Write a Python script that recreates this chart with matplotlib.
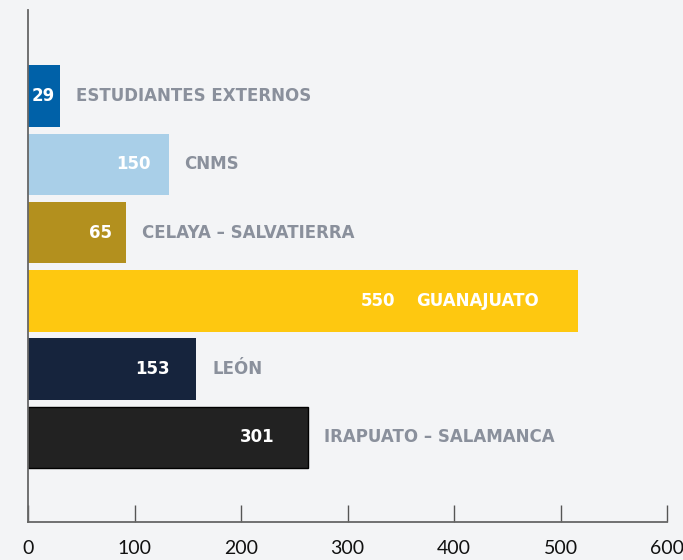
import matplotlib
matplotlib.use("Agg")
import matplotlib.pyplot as plt
from matplotlib import transforms

# Data
categories = ["ESTUDIANTES EXTERNOS", "CNMS", "CELAYA – SALVATIERRA",
              "GUANAJUATO", "LEÓN", "IRAPUATO – SALAMANCA"]
bar_lengths = [30, 132, 92, 516, 158, 263]      # lengths as drawn on the axis
value_labels = ["29", "150", "65", "550", "153", "301"]
xticks = [0, 100, 200, 300, 400, 500, 600]

# Styles
colors = ["#0061A8", "#A9CFE8", "#B3901E", "#FEC810", "#16243D", "#222222"]
edgecolors = ["none", "none", "none", "none", "none", "#000000"]
value_offsets_px = [-5, -18, -14, -182, -26, -34]
cat_inside = [False, False, False, True, False, False]
bg = "#F3F4F6"
label_gray = "#8A909C"
lab_font = "DejaVu Sans"

fig = plt.figure(figsize=(6.83, 5.6), dpi=100, facecolor=bg)
ax = fig.add_axes([28/683, 1 - 522/560, (667 - 28)/683, (522 - 10)/560])
ax.set_facecolor(bg)

y = list(range(len(categories)))
ax.barh(y, bar_lengths, height=0.9, color=colors, edgecolor=edgecolors, linewidth=1)

ax.set_xlim(0, 600)
ax.set_ylim(5 + 1.24, -1.26)
ax.set_xticks(xticks)
ax.set_xticklabels([str(t) for t in xticks], fontsize=14, family="Lato", color="#111111")
ax.set_yticks([])
ax.tick_params(axis="x", direction="in", length=12, width=1, color="#555555", pad=13)
for s in ["top", "right"]:
    ax.spines[s].set_visible(False)
for s in ["left", "bottom"]:
    ax.spines[s].set_color("#666666")
    ax.spines[s].set_linewidth(1.3)

for i, (L, v, c) in enumerate(zip(bar_lengths, value_labels, categories)):
    tv = transforms.offset_copy(ax.transData, fig=fig, x=value_offsets_px[i] * 0.72, y=0, units="points")
    ax.text(L, i, v, transform=tv, ha="right", va="center", fontsize=12,
            fontweight="bold", family=lab_font, color="white")
    if cat_inside[i]:
        tc = transforms.offset_copy(ax.transData, fig=fig, x=(value_offsets_px[i] + 21) * 0.72, y=0, units="points")
        ax.text(L, i, c, transform=tc, ha="left", va="center", fontsize=12,
                fontweight="bold", family=lab_font, color="white")
    else:
        tc = transforms.offset_copy(ax.transData, fig=fig, x=16 * 0.72, y=0, units="points")
        ax.text(L, i, c, transform=tc, ha="left", va="center", fontsize=12,
                fontweight="bold", family=lab_font, color=label_gray)

fig.savefig("out.png", dpi=100, facecolor=bg)
